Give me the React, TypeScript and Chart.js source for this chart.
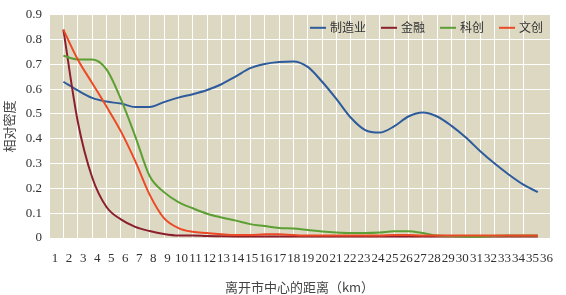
import React, { useEffect, useRef } from 'react';
import { Chart, registerables } from 'chart.js';

Chart.register(...registerables);

// x tick labels (distance from city centre, km)
const xLabels = ['1','2','3','4','5','6','7','8','9','10','11','12','13','14','15','16','17','18','19','20','21','22','23','24','25','26','27','28','29','30','31','32','33','34','35','36'];
// y tick values
const yTicks = [0, 0.1, 0.2, 0.3, 0.4, 0.5, 0.6, 0.7, 0.8, 0.9];

// series (34 samples each, one per grid step)
const manufacturing = [0.63, 0.595, 0.565, 0.55, 0.542, 0.528, 0.528, 0.548, 0.566, 0.58, 0.597, 0.62, 0.652, 0.685, 0.702, 0.71, 0.712, 0.69, 0.63, 0.56, 0.485, 0.435, 0.425, 0.45, 0.49, 0.506, 0.49, 0.452, 0.405, 0.35, 0.3, 0.255, 0.215, 0.185];
const finance = [0.84, 0.47, 0.245, 0.125, 0.075, 0.045, 0.028, 0.016, 0.01, 0.01, 0.008, 0.007, 0.006, 0.006, 0.006, 0.006, 0.006, 0.006, 0.006, 0.006, 0.006, 0.006, 0.006, 0.006, 0.006, 0.006, 0.006, 0.006, 0.006, 0.006, 0.006, 0.006, 0.006, 0.006];
const techInnovation = [0.735, 0.72, 0.72, 0.68, 0.56, 0.41, 0.25, 0.185, 0.145, 0.12, 0.098, 0.083, 0.07, 0.056, 0.048, 0.04, 0.038, 0.032, 0.026, 0.022, 0.02, 0.02, 0.022, 0.027, 0.027, 0.02, 0.01, 0.008, 0.005, 0.005, 0.008, 0.01, 0.01, 0.01];
const cultural = [0.84, 0.72, 0.625, 0.53, 0.43, 0.31, 0.175, 0.08, 0.04, 0.025, 0.02, 0.015, 0.012, 0.012, 0.015, 0.015, 0.012, 0.01, 0.01, 0.01, 0.01, 0.01, 0.01, 0.012, 0.012, 0.01, 0.01, 0.01, 0.01, 0.01, 0.01, 0.01, 0.01, 0.01];

const seriesNames = ['制造业', '金融', '科创', '文创'];
const seriesColors = ['#2d5b9c', '#8c1f2e', '#5c9f34', '#ec4a26'];
const seriesValues = [manufacturing, finance, techInnovation, cultural];

const X_MAX = 34.85;
const SERIF = "'Liberation Serif', 'Times New Roman', 'DejaVu Serif', serif";
const CJK = "'Noto Sans CJK SC', sans-serif";

const bgPlugin = {
  id: 'plotBg',
  beforeDraw(chart: any) {
    const { ctx, chartArea } = chart;
    ctx.save();
    ctx.fillStyle = '#dcd8c1';
    ctx.fillRect(chartArea.left, chartArea.top, chartArea.right - chartArea.left, chartArea.bottom - chartArea.top);
    ctx.restore();
  },
};

const legendPlugin = {
  id: 'inLegend',
  afterDraw(chart: any) {
    const { ctx, chartArea } = chart;
    ctx.save();
    ctx.font = "12px 'Noto Sans CJK SC', sans-serif";
    const lineLen = 16;
    const gapText = 4;
    const gapItem = 15;
    const items = chart.data.datasets.map((d: any) => ({
      label: d.label,
      color: d.borderColor,
      w: ctx.measureText(d.label).width,
    }));
    const total =
      items.reduce((s: number, it: any) => s + lineLen + gapText + it.w, 0) + gapItem * (items.length - 1);
    let x = chartArea.right - 7 - total;
    const y = chartArea.top + 13;
    ctx.textBaseline = 'middle';
    ctx.textAlign = 'left';
    for (const it of items) {
      ctx.strokeStyle = it.color;
      ctx.lineWidth = 2;
      ctx.beginPath();
      ctx.moveTo(x, y);
      ctx.lineTo(x + lineLen, y);
      ctx.stroke();
      x += lineLen + gapText;
      ctx.fillStyle = '#333';
      ctx.fillText(it.label, x, y);
      x += it.w + gapItem;
    }
    ctx.restore();
  },
};

export default function App() {
  const ref = useRef<HTMLCanvasElement>(null);

  useEffect(() => {
    document.body.style.margin = '0';
    const canvas = ref.current;
    if (!canvas) return;
    const datasets = seriesValues.map((vals, si) => ({
      label: seriesNames[si],
      data: vals.map((v, i) => ({ x: i + 1, y: v })),
      borderColor: seriesColors[si],
      backgroundColor: seriesColors[si],
      borderWidth: 2,
      pointRadius: 0,
      cubicInterpolationMode: 'monotone' as const,
      fill: false,
      order: 4 - si,
    }));

    const chart = new Chart(canvas, {
      type: 'line',
      data: { datasets },
      options: {
        animation: false,
        responsive: false,
        maintainAspectRatio: false,
        layout: { padding: { top: 9, right: 16, bottom: 0, left: 0 } },
        plugins: {
          legend: { display: false },
          tooltip: { enabled: false },
        },
        scales: {
          x: {
            type: 'linear',
            position: 'bottom',
            min: 0,
            max: X_MAX,
            bounds: 'data',
            ticks: { display: false, stepSize: 1 },
            grid: { color: '#ffffff', lineWidth: 1, drawTicks: false },
            border: { display: false },
            afterFit: (s: any) => { s.height = 0; },
          },
          x2: {
            type: 'linear',
            position: 'bottom',
            min: 0,
            max: X_MAX,
            bounds: 'data',
            grid: { display: false },
            border: { display: false },
            afterBuildTicks: (s: any) => {
              s.ticks = xLabels.map((_, i) => ({ value: 0.42 + 0.977 * i }));
            },
            ticks: {
              autoSkip: false,
              maxRotation: 0,
              minRotation: 0,
              padding: 5,
              color: '#333',
              font: { family: SERIF, size: 13 },
              callback: (_v: any, i: number) => xLabels[i],
            },
            title: {
              display: true,
              text: '离开市中心的距离（km）',
              color: '#444',
              font: { family: CJK, size: 13 },
              padding: { top: 0, bottom: 0 },
            },
            afterFit: (s: any) => { s.height = 57; },
          },
          y: {
            type: 'linear',
            min: 0,
            max: 0.9,
            afterBuildTicks: (s: any) => {
              s.ticks = yTicks.map((v) => ({ value: v }));
            },
            ticks: {
              padding: 7,
              color: '#333',
              font: { family: SERIF, size: 13 },
              callback: (v: any) => String(Math.round(v * 10) / 10),
            },
            grid: { color: '#ffffff', lineWidth: 1, drawTicks: false },
            border: { display: false },
            title: {
              display: true,
              text: '相对密度',
              color: '#444',
              font: { family: CJK, size: 13 },
              padding: { top: 1, bottom: 0 },
            },
            afterFit: (s: any) => { s.width = 49; },
          },
        },
      },
      plugins: [bgPlugin, legendPlugin],
    });
    return () => chart.destroy();
  }, []);

  return (
    <div style={{ width: 566, height: 295, background: '#fff' }}>
      <canvas ref={ref} width={566} height={295} style={{ display: 'block', width: 566, height: 295 }} />
    </div>
  );
}
